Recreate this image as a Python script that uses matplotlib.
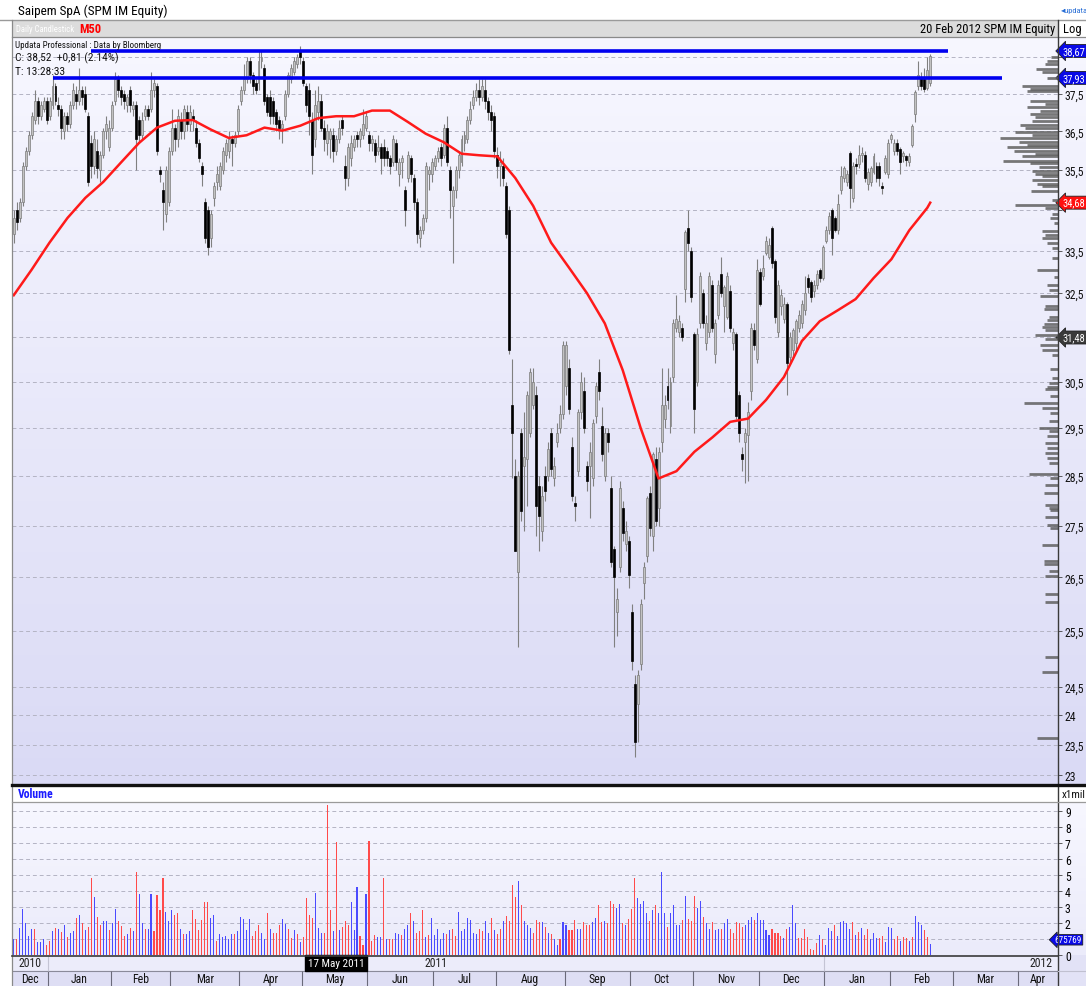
import numpy as np
import pandas as pd
import matplotlib
matplotlib.use('Agg')
import matplotlib.pyplot as plt
from matplotlib import transforms
from matplotlib import font_manager as fm
from matplotlib.lines import Line2D
from matplotlib.patches import Rectangle
from matplotlib.ticker import FixedLocator, NullLocator


# ---- daily candles, one row of numbers per month (Dec 2010 .. 20 Feb 2012) ----
opens = [
    33.9, 34.5, 34.3, 34.7, 35.6, 36.0, 36.4, 36.8, 37.3, 36.9, 37.1, 37.3,
    36.9, 37.2, 37.7, 37.2, 37.1, 36.5, 36.9, 36.7, 37.2, 37.5, 37.3, 37.6, 37.5, 36.9, 36.2, 35.6, 36.0, 35.5, 35.9, 36.5, 36.1,
    36.6, 37.3, 37.9, 37.6, 37.5, 37.2, 37.6, 37.1, 37.2, 36.8, 36.4, 36.9, 37.1, 37.1, 37.6, 37.7, 35.5, 35.0, 34.4, 34.7,
    36.0, 36.6, 36.3, 36.8, 36.5, 37.0, 36.7, 36.9, 36.6, 36.2, 35.6, 34.7, 34.5, 33.8, 34.8, 35.2, 35.1, 35.5, 35.9, 36.0, 36.3, 36.2, 36.5,
    37.3, 37.6, 37.9, 38.4, 38.0, 37.8, 37.8, 38.4, 38.2, 37.4, 37.4, 37.3, 37.0, 36.8, 36.6, 36.9, 37.5, 37.9, 38.1, 38.3, 38.7,
    38.4, 37.7, 37.6, 36.8, 36.3, 37.0, 37.3, 36.6, 36.2, 36.3, 36.4, 36.0, 36.3, 36.8, 35.6, 35.3, 35.8, 36.1, 36.4, 36.3, 36.4, 36.6,
    36.4, 36.2, 36.2, 36.0, 36.1, 36.1, 36.0, 35.8, 35.7, 36.2, 35.4, 35.7, 35.0, 35.3, 35.8, 35.3, 34.7, 33.8, 34.0, 34.3, 35.4, 35.4,
    35.6, 35.8, 36.1, 35.9, 36.6, 35.5, 34.6, 35.0, 35.5, 35.7, 36.2, 36.3, 36.8, 37.2, 37.4, 37.6, 37.4, 37.6, 37.3, 37.0, 36.9,
    35.9, 35.6, 35.6, 35.1, 34.5, 30.0, 28.5, 26.6, 29.4, 28.7, 28.85, 29.4, 30.0, 30.2, 28.3, 27.4, 28.5, 28.5, 29.4, 28.45, 29.2, 29.5, 29.8,
    30.4, 30.8, 29.1, 27.95, 28.6, 29.85, 30.3, 28.7, 28.7, 28.45, 29.75, 30.7, 29.55, 28.5, 29.4, 28.25, 27.05, 25.85, 26.7, 27.85, 27.15, 27.2,
    25.85, 24.55, 24.2, 24.9, 26.4, 26.9, 28.15, 27.3, 28.85, 27.85, 29.2, 29.7, 30.4, 29.55, 30.6, 31.7, 31.6, 31.7, 32.6, 34.05, 33.5,
    31.55, 30.5, 31.8, 32.5, 31.35, 31.6, 32.7, 31.1, 32.0, 32.95, 32.2, 31.95, 32.55, 31.35, 31.55, 30.2, 28.95, 29.2, 29.35, 30.3, 31.65, 31.0,
    33.0, 32.9, 33.45, 33.35, 34.05, 33.25, 31.6, 32.2, 31.9, 32.25, 31.05, 31.2, 31.35, 31.7, 31.8, 32.1, 32.85, 32.75, 32.55, 32.7, 33.05, 32.85,
    33.75, 34.0, 34.5, 34.3, 34.0, 35.0, 35.3, 35.2, 35.95, 34.8, 35.65, 35.65, 35.9, 35.9, 35.15, 35.2, 35.45, 35.6, 35.6, 35.07, 35.45, 35.4,
    36.3, 36.0, 36.2, 36.05, 35.85, 35.85, 35.7, 36.15, 36.95, 37.7, 37.95, 37.9, 37.65, 37.8,
]
highs = [
    34.5, 34.7, 34.8, 35.7, 36.1, 36.5, 37.0, 37.6, 37.4, 37.3, 37.4, 37.4,
    37.4, 38.0, 37.8, 37.4, 37.2, 37.0, 37.0, 37.3, 37.8, 37.7, 38.2, 37.7, 37.7, 37.0, 36.4, 36.5, 36.3, 36.0, 36.6, 36.9, 36.8,
    37.3, 38.1, 38.0, 37.7, 37.6, 37.5, 37.7, 37.3, 37.3, 36.9, 37.0, 37.2, 37.2, 38.1, 37.9, 37.8, 35.6, 35.2, 35.6, 36.1,
    37.1, 36.7, 37.1, 37.0, 37.2, 37.2, 37.2, 37.1, 36.8, 36.3, 35.7, 34.8, 34.6, 34.5, 35.2, 35.6, 35.7, 36.1, 36.3, 36.5, 36.4, 36.5, 37.2,
    37.7, 38.3, 38.5, 38.5, 38.1, 37.9, 38.7, 38.7, 38.3, 37.5, 37.6, 37.4, 37.1, 36.9, 36.8, 37.6, 38.1, 38.3, 38.5, 38.6, 38.8,
    38.5, 37.8, 37.8, 37.0, 37.6, 37.7, 37.5, 36.8, 36.7, 36.6, 36.6, 36.4, 36.8, 36.9, 35.9, 36.2, 36.4, 36.4, 36.5, 36.6, 37.1, 37.0,
    36.5, 36.4, 36.3, 36.4, 36.2, 36.3, 36.1, 35.9, 36.4, 36.3, 35.8, 35.9, 35.1, 36.0, 35.9, 35.4, 34.8, 34.1, 34.4, 35.7, 35.6, 35.8,
    35.9, 36.1, 36.2, 36.7, 36.9, 35.6, 35.1, 35.6, 36.0, 36.4, 36.5, 36.9, 37.3, 37.6, 37.8, 37.9, 37.9, 37.9, 37.4, 37.2, 37.0,
    36.1, 36.0, 35.8, 35.2, 34.6, 31.0, 28.85, 28.6, 29.5, 29.85, 30.3, 30.8, 30.8, 30.4, 28.5, 28.3, 28.7, 29.2, 29.5, 28.9, 29.6, 30.0, 31.4,
    31.4, 31.0, 29.3, 28.1, 29.9, 30.7, 30.6, 28.8, 29.2, 29.7, 30.5, 31.0, 29.95, 29.5, 29.5, 28.5, 27.1, 26.3, 28.4, 28.0, 27.6, 27.3,
    26.0, 24.7, 24.8, 26.1, 26.8, 28.1, 28.3, 29.0, 29.1, 29.1, 30.8, 30.2, 30.8, 30.6, 31.9, 32.45, 32.0, 31.8, 34.0, 34.5, 33.6,
    31.6, 31.7, 33.0, 32.6, 32.0, 33.0, 32.8, 31.9, 32.8, 33.35, 32.7, 33.0, 32.7, 31.7, 31.6, 30.3, 29.1, 29.5, 30.05, 31.8, 31.8, 33.3,
    33.1, 33.4, 33.85, 33.8, 34.1, 33.3, 32.8, 32.6, 32.4, 32.3, 31.6, 31.7, 31.9, 32.1, 32.35, 32.9, 32.95, 32.8, 32.8, 33.05, 33.1, 33.65,
    34.1, 34.45, 34.55, 34.35, 34.9, 35.6, 35.6, 35.5, 36.0, 35.7, 35.8, 36.15, 36.1, 36.0, 35.55, 35.6, 35.95, 35.7, 35.7, 35.2, 35.9, 36.3,
    36.45, 36.3, 36.3, 36.1, 36.0, 35.9, 35.95, 36.7, 37.6, 38.4, 38.1, 38.2, 38.5, 38.6,
]
lows = [
    33.7, 34.0, 34.2, 34.6, 35.5, 35.9, 36.3, 36.7, 36.7, 36.8, 37.0, 36.7,
    36.8, 37.1, 37.2, 36.9, 36.3, 36.3, 36.5, 36.6, 37.1, 37.1, 37.2, 37.2, 37.0, 35.1, 35.3, 35.4, 35.3, 35.2, 35.8, 36.3, 36.0,
    36.5, 37.2, 37.4, 37.2, 37.1, 37.0, 37.0, 36.9, 35.5, 36.2, 36.3, 36.8, 36.8, 37.0, 37.4, 35.9, 35.2, 34.0, 34.2, 34.6,
    35.9, 36.0, 36.1, 36.3, 36.3, 36.5, 36.5, 36.5, 36.1, 35.7, 35.1, 33.7, 33.4, 33.6, 34.6, 35.0, 35.0, 35.4, 35.7, 35.8, 35.6, 36.1, 36.4,
    37.2, 37.5, 37.8, 37.8, 37.5, 37.5, 37.6, 38.2, 37.2, 36.9, 36.7, 36.7, 36.5, 36.3, 36.2, 36.8, 37.4, 37.8, 38.0, 38.2, 38.3,
    37.7, 37.0, 36.4, 35.4, 36.1, 36.8, 36.5, 36.0, 35.9, 35.8, 35.7, 35.9, 36.2, 36.4, 35.0, 35.1, 35.6, 36.0, 36.1, 36.1, 36.3, 36.5,
    36.0, 36.0, 35.7, 35.9, 35.4, 35.6, 35.6, 35.4, 35.6, 35.5, 35.1, 35.3, 34.1, 35.2, 35.2, 34.5, 33.7, 33.6, 33.9, 34.2, 35.0, 35.2,
    35.5, 35.7, 35.6, 35.8, 35.6, 34.3, 33.2, 34.8, 35.3, 35.6, 36.0, 36.2, 36.7, 37.1, 37.3, 37.2, 37.3, 37.1, 36.8, 36.5, 35.8,
    35.3, 35.1, 35.1, 33.8, 31.1, 28.45, 27.0, 25.2, 27.6, 27.4, 27.9, 29.3, 29.9, 27.3, 27.0, 27.2, 28.0, 28.4, 28.5, 28.3, 29.1, 29.4, 29.7,
    30.2, 29.8, 28.0, 27.6, 28.5, 29.7, 29.4, 28.2, 27.65, 28.3, 29.6, 30.1, 28.8, 28.4, 29.0, 26.7, 25.2, 25.4, 26.6, 27.2, 27.0, 26.3,
    24.8, 23.3, 23.55, 24.8, 26.1, 26.8, 27.3, 27.0, 27.5, 27.5, 29.0, 29.5, 29.9, 29.4, 30.5, 31.6, 31.5, 31.4, 32.3, 33.5, 32.3,
    29.4, 30.4, 31.7, 31.7, 31.2, 31.5, 31.6, 30.9, 31.9, 32.4, 31.6, 31.9, 31.6, 31.2, 29.7, 29.2, 28.6, 28.35, 28.4, 30.1, 31.2, 30.9,
    32.2, 32.8, 33.4, 33.3, 33.1, 31.8, 31.5, 32.0, 31.8, 30.2, 30.9, 31.0, 31.2, 31.6, 31.7, 32.0, 32.5, 32.3, 32.4, 32.6, 32.75, 32.8,
    33.7, 33.9, 33.4, 33.95, 33.9, 34.9, 35.2, 35.1, 34.55, 34.7, 35.4, 35.55, 35.7, 35.2, 35.0, 35.1, 35.4, 35.2, 35.1, 34.9, 35.4, 35.3,
    36.2, 35.9, 35.9, 35.4, 35.7, 35.6, 35.6, 36.1, 36.75, 37.6, 37.6, 37.55, 37.6, 37.7,
]
closes = [
    34.3, 34.2, 34.7, 35.6, 36.0, 36.4, 36.9, 37.3, 36.9, 37.2, 37.3, 36.8,
    37.3, 37.7, 37.3, 37.1, 36.6, 36.9, 36.7, 37.2, 37.6, 37.3, 37.6, 37.4, 37.1, 35.2, 35.6, 36.3, 35.55, 35.9, 36.5, 36.7, 36.6,
    37.2, 37.9, 37.6, 37.4, 37.3, 37.4, 37.2, 37.2, 36.3, 36.4, 36.8, 37.1, 36.9, 37.6, 37.8, 36.0, 35.4, 34.7, 35.5, 36.0,
    36.6, 36.3, 36.9, 36.5, 37.1, 36.7, 37.0, 36.8, 36.2, 35.8, 35.4, 33.8, 33.6, 34.4, 35.1, 35.4, 35.6, 36.0, 36.2, 36.3, 36.2, 36.4, 37.1,
    37.6, 37.9, 38.4, 38.0, 37.7, 37.6, 38.4, 38.5, 37.3, 37.0, 36.9, 36.9, 36.7, 36.6, 36.7, 37.5, 38.0, 38.2, 38.4, 38.5, 38.5,
    37.8, 37.2, 36.9, 35.9, 37.2, 37.3, 36.6, 36.3, 36.5, 36.5, 36.0, 36.3, 36.6, 36.6, 35.3, 36.1, 36.2, 36.3, 36.3, 36.5, 36.7, 36.9,
    36.2, 36.3, 35.9, 36.1, 35.8, 35.8, 35.8, 35.6, 36.3, 35.7, 35.7, 35.8, 34.5, 35.9, 35.4, 34.7, 33.9, 34.0, 34.3, 35.6, 35.5, 35.7,
    35.8, 36.0, 35.8, 36.6, 35.7, 35.0, 35.0, 35.5, 35.9, 36.3, 36.4, 36.8, 37.1, 37.4, 37.6, 37.4, 37.7, 37.3, 37.0, 36.8, 36.0,
    35.6, 35.7, 35.3, 33.9, 31.2, 29.4, 27.0, 28.5, 27.8, 28.9, 30.2, 30.7, 30.5, 27.9, 27.7, 28.1, 28.2, 29.05, 28.65, 28.7, 29.4, 29.8, 31.3,
    31.3, 29.9, 28.1, 27.9, 29.85, 30.5, 29.5, 28.4, 29.0, 29.6, 30.4, 30.3, 28.95, 29.4, 29.2, 26.8, 26.5, 26.1, 28.25, 27.35, 27.4, 26.55,
    24.95, 23.55, 24.7, 26.0, 26.7, 28.05, 27.45, 28.95, 27.6, 29.0, 30.0, 30.0, 30.1, 30.5, 31.8, 31.9, 31.85, 31.5, 33.95, 33.7, 32.4,
    29.9, 31.55, 32.9, 31.8, 31.8, 32.9, 31.7, 31.8, 32.7, 32.5, 32.65, 32.9, 31.7, 31.6, 29.75, 29.4, 28.85, 29.4, 29.85, 31.7, 31.3, 33.05,
    32.25, 33.1, 33.75, 33.65, 33.2, 31.95, 32.7, 32.45, 32.25, 30.9, 31.5, 31.65, 31.85, 32.0, 32.25, 32.5, 32.65, 32.4, 32.7, 32.95, 32.85, 33.6,
    34.0, 34.35, 33.8, 34.0, 34.65, 35.35, 35.55, 35.4, 35.05, 35.6, 35.6, 35.9, 35.95, 35.3, 35.45, 35.55, 35.85, 35.3, 35.3, 35.04, 35.8, 36.2,
    36.4, 36.2, 36.0, 35.7, 35.95, 35.75, 35.85, 36.65, 37.55, 38.0, 37.7, 37.63, 38.15, 38.52,
]
first_day = '2010-12-16'

# 50 day moving average, read every 6th session (plus the last one)
ma50_day = list(range(0, 307, 6)) + [307]
ma50 = [32.45, 33.05, 33.7, 34.3, 34.8, 35.2, 35.7, 36.2, 36.6, 36.78,
        36.8, 36.55, 36.33, 36.4, 36.6, 36.52, 36.65, 36.85, 36.9, 36.9,
        37.05, 37.05, 36.75, 36.44, 36.22, 35.92, 35.88, 35.85, 35.3, 34.6,
        33.7, 33.1, 32.5, 31.8, 30.75, 29.5, 28.45, 28.6, 29.0, 29.3,
        29.63, 29.7, 30.1, 30.6, 31.4, 31.85, 32.1, 32.36, 32.85, 33.3,
        34.0, 34.55, 34.68]

# horizontal resistance lines: level, first session, last session
level_price = [38.67, 37.93]
level_from = [26, 13]
level_to = [313, 331]

# volume in millions, and colour code per session (b = blue, r = red)
volumes = [
    1.0, 1.0, 1.7, 2.9, 2.0, 1.2, 1.65, 1.6, 0.8, 0.8, 1.0,
    0.6, 0.85, 1.5, 1.7, 1.65, 1.45, 1.9, 1.1, 1.35, 1.5,
    2.3, 2.5, 2.0, 1.55, 1.75, 4.8, 3.6, 2.35, 1.85, 2.15,
    2.1, 1.55, 2.0, 2.9, 2.15, 1.8, 1.2, 1.3, 1.7, 1.5,
    5.2, 3.8, 2.0, 1.6, 1.6, 3.8, 1.5, 3.75, 2.8, 4.8,
    2.7, 2.1, 2.8, 2.5, 2.65, 1.65, 1.3, 1.3, 1.5, 2.8,
    2.25, 1.55, 2.2, 3.3, 3.3, 2.3, 2.5, 0.9, 1.3, 1.15, 1.2,
    1.0, 1.3, 1.3, 1.5, 2.4, 2.25, 1.55, 2.25, 1.2, 1.5,
    1.85, 1.35, 1.0, 2.6, 1.6, 1.35, 1.4, 1.85, 2.25, 1.95,
    1.6, 1.05, 1.55, 1.3, 0.8, 1.15, 3.55, 2.5, 2.3, 3.9,
    1.7, 1.4, 1.4, 9.4, 2.8, 1.5, 7.05, 1.55, 1.75, 2.1,
    1.85, 3.3, 1.55, 4.25, 1.2, 0.6, 3.8, 7.1, 0.9, 1.25,
    1.1, 1.1, 4.8, 1.0, 1.0, 1.0, 1.4, 1.3,
    1.25, 1.65, 1.9, 2.65, 2.1, 1.4, 1.5, 2.8, 1.15, 1.25,
    2.3, 1.25, 1.65, 1.0, 1.35, 1.3, 1.55, 1.6, 1.2, 2.7,
    1.5, 1.6, 2.3, 2.2, 1.4, 1.3, 1.65, 1.5, 2.1, 1.4,
    2.3, 1.55, 1.3, 1.6, 2.1, 2.45, 2.1, 4.4, 3.6, 4.6,
    3.1, 2.1, 1.9, 1.7, 1.35, 2.2, 2.05, 2.05, 1.75, 1.4,
    1.3, 1.0, 0.6, 1.0, 2.05, 1.85, 1.55, 1.55, 2.2, 1.65,
    1.6, 2.05, 1.85, 1.9, 2.05, 2.3, 3.1, 2.05, 2.1, 2.0,
    3.35, 3.2, 2.95, 3.2, 2.0, 1.85, 2.25, 2.9, 4.8, 3.55,
    3.2, 3.4, 2.6, 2.1, 2.8, 3.1, 2.6, 5.2, 2.65, 1.75,
    2.6, 3.1, 1.9, 1.9, 2.2, 3.7, 2.25, 2.1, 3.7, 2.95,
    3.35, 2.4, 2.0, 1.6, 2.05, 1.55, 1.6, 1.6, 2.0, 2.25,
    1.6, 1.35, 2.05, 2.0, 1.75, 1.85, 2.2, 2.4, 2.2, 2.65,
    2.2, 2.2, 1.55, 1.25, 1.6, 1.4, 1.35, 1.2, 1.05, 1.6,
    1.75, 3.1, 2.0,
    1.05, 1.05, 1.6, 1.1, 0.4, 0.3, 0.75, 1.25, 1.0, 0.65,
    1.7, 1.5, 1.9, 1.2, 2.05, 2.1, 2.0, 1.6, 2.05, 1.25,
    1.45, 1.7, 1.25, 1.6, 1.0, 1.35, 1.05, 1.05, 1.2, 0.8,
    1.75, 1.7, 1.0, 1.2, 0.85, 1.15, 1.05, 0.85, 1.15, 2.45,
    2.05, 1.9, 1.55, 1.15, 0.676,
]
vol_colors = ("brbbbbbrbbb" "rrbrbrbrbb" "rbrbrrbrrb" "brbbrrrbrb" "rbbrbbrrrr"
              "bbbrrbrbbr" "rrrrrbbrbbb" "bbrbbbbbrr" "rbbrbrrrbb" "rrbrbrrrrb"
              "bbrrrbrbrr" "rbbbrrbrrr" "bbrbrrbb"
              "rbbrbrrrbr" "bbbbbrbrrb" "bbbbbbrrbb" "rbrrbrrrrb" "rbbbrrrbrb"
              "rbbrbbrrrb" "brrrbbrrbr" "rrbbrbrrrb" "bbbrbrbbbr" "bbbbrbrrrb"
              "brbbrbbrbb" "rrrrrbbbrb" "bbbbrrrrbr" "bbb"
              "rrrrrrrbrb" "bbrbbbbbrb" "rbrrbbbrrb" "bbrrbrrbrb" "bbrrb")

# volume-at-price profile: price level and bar length
profile_price = [38.51, 38.40, 38.30, 38.18, 38.10, 37.93, 37.72, 37.64, 37.58,
                 37.31, 37.23, 37.15, 37.05, 36.97, 36.88, 36.78, 36.67, 36.60, 36.49,
                 36.41, 36.33, 36.23, 36.15, 36.10, 36.00, 35.92, 35.85, 35.74, 35.67,
                 35.59, 35.49, 35.41, 35.34, 35.24, 35.16, 35.09, 34.96, 34.74, 34.61,
                 34.54, 34.41, 34.30, 34.17, 33.98, 33.88, 33.81, 33.69, 33.57, 33.34,
                 33.05, 32.87, 32.70, 32.58, 32.44, 32.21, 32.12, 31.94, 31.87, 31.78,
                 31.72, 31.65, 31.54, 31.45, 31.32, 31.20, 31.09, 30.78, 30.57, 30.46,
                 30.39, 30.33, 30.18, 30.03, 29.92, 29.81, 29.64, 29.50, 29.43, 29.33,
                 29.19, 29.08, 28.98, 28.88, 28.77, 28.55, 28.45, 28.31, 28.15, 27.91,
                 27.85, 27.81, 27.68, 27.52, 27.46, 27.13, 26.81, 26.75, 26.62, 26.52,
                 26.18, 26.03, 25.03, 24.76, 23.62]
profile_size = [7, 11, 13, 22, 16, 11, 36, 28, 31,
                28, 13, 31, 18, 28, 23, 26, 38, 33, 43,
                26, 58, 39, 31, 51, 44, 23, 36, 55, 28,
                19, 26, 23, 16, 26, 21, 16, 27, 6, 43,
                13, 6, 8, 4, 16, 13, 16, 11, 6, 6,
                21, 4, 11, 9, 18, 13, 14, 9, 11, 14,
                16, 13, 23, 13, 18, 16, 6, 8, 6, 9,
                11, 13, 8, 34, 16, 8, 9, 19, 9, 11,
                13, 11, 13, 11, 9, 29, 8, 13, 14, 13,
                9, 8, 13, 11, 8, 16, 14, 14, 9, 13,
                13, 13, 13, 16, 21]

price_ticks = [23, 23.5, 24, 24.5, 25.5, 26.5, 27.5, 28.5, 29.5, 30.5, 31.5,
               32.5, 33.5, 34.5, 35.5, 36.5, 37.5, 38.5]
hidden_ticks = [31.5, 34.5, 38.5]
month_names = ['Jan', 'Feb', 'Mar', 'Apr', 'May', 'Jun', 'Jul', 'Aug', 'Sep',
               'Oct', 'Nov', 'Dec']


def pick_font():
    # prefer a narrow face, like the terminal font of the original
    names = {f.name for f in fm.fontManager.ttflist}
    for name in ['Liberation Sans Narrow', 'Roboto Condensed', 'Open Sans Condensed']:
        if name in names:
            return name, 'normal', True
    for f in fm.fontManager.ttflist:
        if f.name == 'DejaVu Sans' and f.stretch == 'condensed' and f.style == 'normal':
            return 'DejaVu Sans', 'condensed', True
    if 'Liberation Sans' in names:
        return 'Liberation Sans', 'normal', False
    return 'DejaVu Sans', 'normal', False


FONT, STRETCH, NARROW = pick_font()
plt.rcParams['font.family'] = [FONT, 'DejaVu Sans']
plt.rcParams['font.stretch'] = STRETCH
FS = 1.0 if NARROW else 0.88   # shrink text a little for a wide face

W, H = 1086, 987
fig = plt.figure(figsize=(W / 100, H / 100), dpi=100)
fig.patch.set_facecolor('white')


def rect(x0, y0, x1, y1):
    # pixel box (top-left origin) -> figure fraction
    return [x0 / W, 1 - y1 / H, (x1 - x0) / W, (y1 - y0) / H]


def fline(x0, y0, x1, y1, color='#707070', lw=1.0, z=20):
    fig.add_artist(Line2D([x0 / W, x1 / W], [1 - y0 / H, 1 - y1 / H],
                          transform=fig.transFigure, color=color, lw=lw, zorder=z))


def fbox(x0, y0, x1, y1, color, z=-5):
    fig.add_artist(Rectangle((x0 / W, 1 - y1 / H), (x1 - x0) / W, (y1 - y0) / H,
                             transform=fig.transFigure, color=color, lw=0, zorder=z))


def ftext(x, y, s, size, **kw):
    kw.setdefault('va', 'center')
    fig.text(x / W, 1 - y / H, s, fontsize=size * FS, **kw)


def gradient(box, top, bottom):
    bg = fig.add_axes(box, zorder=0)
    bg.set_axis_off()
    c0 = np.array(matplotlib.colors.to_rgb(top))
    c1 = np.array(matplotlib.colors.to_rgb(bottom))
    t = np.linspace(0, 1, 256)[:, None]
    img = c0[None, :] * (1 - t) + c1[None, :] * t
    bg.imshow(img[:, None, :], aspect='auto', extent=[0, 1, 0, 1], origin='upper')
    bg.set_xlim(0, 1)
    bg.set_ylim(0, 1)


n = min(len(opens), len(highs), len(lows), len(closes))
o = np.array(opens[:n])
h = np.array(highs[:n])
l = np.array(lows[:n])
c = np.array(closes[:n])
idx = np.arange(n)
XL = (-0.57, 349.8)

# ---- backgrounds ----
gradient(rect(12, 38, 1086, 786), '#f7f7ff', '#dadaf5')
gradient(rect(12, 803, 1086, 956), '#f7f7ff', '#ebebfa')
fbox(0, 0, W, 21, 'white')
fbox(12, 21, 1058, 38, '#dcdcdc')
fbox(1058, 21, 1086, 38, 'white')
fbox(12, 786, 1086, 803, 'white')
fbox(12, 956, 1086, 987, '#e2e2f6')

# ---- price panel ----
ax = fig.add_axes(rect(12, 38, 1058, 786), zorder=2)
ax.set_facecolor('none')
ax.set_yscale('log')
ax.set_ylim(22.83, 39.06)
ax.set_xlim(*XL)
for s in ax.spines.values():
    s.set_visible(False)
ax.yaxis.tick_right()
ax.yaxis.set_major_locator(FixedLocator(price_ticks))
ax.yaxis.set_minor_locator(NullLocator())
ax.set_yticklabels(['' if t in hidden_ticks else ('%g' % t).replace('.', ',')
                    for t in price_ticks])
ax.tick_params(axis='y', which='both', length=3, width=0.6, color='#444444',
               labelsize=8.5 * FS, pad=2, labelcolor='#111111')
ax.set_xticks([])
ax.grid(axis='y', ls=(0, (4, 3)), color='#b4b4c4', lw=0.7)
ax.set_axisbelow(True)

lo = np.minimum(l, np.minimum(o, c))
hi = np.maximum(h, np.maximum(o, c))
up = c >= o
ax.vlines(idx, lo, hi, color='#808080', lw=0.8, zorder=3)
body_lo = np.minimum(o, c)
body_h = np.maximum(np.abs(c - o), 0.05)
ax.bar(idx[up], body_h[up], bottom=body_lo[up], width=0.66, color='#c2c2c2',
       edgecolor='#7c7c7c', lw=0.5, zorder=4)
ax.bar(idx[~up], body_h[~up], bottom=body_lo[~up], width=0.66, color='black',
       edgecolor='black', lw=0.5, zorder=4)

ax.plot(ma50_day, ma50, color='#ff1a1a', lw=1.8, zorder=5, solid_joinstyle='round')
ax.hlines(level_price, level_from, level_to, color='#0000f0', lw=2.6, zorder=6)

box_fs = 7.6 if NARROW else 6.2
tr = transforms.blended_transform_factory(ax.transAxes, ax.transData)
for val, txt, fc in [(38.67, '38,67', '#0a0ae6'), (37.93, '37,93', '#0a0ae6'),
                     (34.68, '34,68', '#ff1010'), (31.48, '31,48', '#3a3a3a')]:
    ax.text(1.0045, val, txt, transform=tr, ha='left', va='center', fontsize=box_fs,
            color='white', clip_on=False, zorder=12,
            bbox=dict(boxstyle='larrow,pad=0.14', fc=fc, ec='#202020', lw=0.6))

# volume at price profile (drawn against the same log price scale)
axp = fig.add_axes(rect(990, 38, 1058, 786), zorder=3)
axp.set_facecolor('none')
axp.set_yscale('log')
axp.set_ylim(ax.get_ylim())
axp.set_xlim(68, 0)
axp.set_axis_off()
axp.hlines(profile_price, 0, profile_size, color='#606060', lw=2.0, alpha=0.85)

# ---- volume panel ----
axv = fig.add_axes(rect(12, 803, 1058, 956), zorder=2)
axv.set_facecolor('none')
axv.set_xlim(*XL)
axv.set_ylim(0, 9.56)
for s in axv.spines.values():
    s.set_visible(False)
vn = min(len(volumes), len(vol_colors))
vx = np.arange(vn) + (n - vn)
colmap = {'b': '#4a4aff', 'r': '#ff4a4a'}
axv.bar(vx, volumes[:vn], width=0.36, color=[colmap[k] for k in vol_colors[:vn]],
        lw=0, zorder=3)
axv.yaxis.tick_right()
axv.set_yticks(range(10))
# the "1" label sits under the last-volume flag, as in the original
axv.set_yticklabels(['' if k == 1 else str(k) for k in range(10)])
axv.tick_params(axis='y', length=3, width=0.6, color='#444444', labelsize=8.5 * FS, pad=2)
axv.set_xticks([])
axv.grid(axis='y', ls=(0, (4, 3)), color='#b4b4c4', lw=0.7)
axv.set_axisbelow(True)
trv = transforms.blended_transform_factory(axv.transAxes, axv.transData)
axv.text((1082 - 12) / 1046, 0.95, '675769', transform=trv, ha='right', va='center',
         fontsize=(6.6 if NARROW else 4.8), color='white', clip_on=False, zorder=12,
         bbox=dict(boxstyle='larrow,pad=0.08', fc='#0a0ae6', ec='#202020', lw=0.6))

# ---- date strip ----
axd = fig.add_axes(rect(12, 956, 1058, 987), zorder=2)
axd.set_facecolor('none')
axd.set_xlim(*XL)
axd.set_ylim(0, 2)
axd.set_axis_off()
axd.axhspan(1, 2, color='#ececfa', zorder=0)
axd.axhspan(0, 1, color='#dedef4', zorder=0)
axd.axhline(1, color='#8a8a9a', lw=0.8)
dates = pd.bdate_range(first_day, periods=int(XL[1]) + 2)
m_start = [0] + [k for k in range(1, len(dates)) if dates[k].month != dates[k - 1].month]
edges = [XL[0]] + [k - 0.5 for k in m_start[1:]] + [XL[1]]
for e in edges[1:-1]:
    axd.vlines(e, 0, 1, color='#6a6a7a', lw=0.8)
for k in range(len(m_start)):
    mid = (edges[k] + edges[k + 1]) / 2
    axd.text(mid, 0.5, month_names[dates[m_start[k]].month - 1], ha='center',
             va='center', fontsize=8.5 * FS, color='#111111')
y_start = [k for k in m_start if dates[k].month == 1]
for e in y_start:
    axd.vlines(e - 0.5, 1, 2, color='#c4c4d4', lw=0.8)
axd.text((edges[0] + y_start[0] - 0.5) / 2, 1.5, str(dates[0].year), ha='center',
         va='center', fontsize=8.5 * FS, color='#222222')
axd.text((y_start[0] + y_start[1]) / 2 - 0.5, 1.5, str(dates[y_start[0]].year),
         ha='center', va='center', fontsize=8.5 * FS, color='#222222')
axd.text(XL[1] - 2, 1.5, str(dates[y_start[1]].year), ha='right', va='center',
         fontsize=8.5 * FS, color='#222222')
cursor = dates.get_loc(pd.Timestamp('2011-05-17'))
axd.text(cursor, 1.5, '17 May 2011', ha='center', va='center', fontsize=8 * FS,
         color='white', zorder=5,
         bbox=dict(boxstyle='square,pad=0.25', fc='black', ec='black'))

# ---- header texts ----
ftext(18, 11, 'Saipem SpA (SPM IM Equity)', 9.5, color='black')
ftext(1061, 11, '\u25c2updata', 6.0, color='#2a6fd6')
ftext(16, 29.5, 'Daily Candlestick', 6.2, color='white')
ftext(79, 29.5, 'M50', 9, color='#ff0000', fontweight='bold')
ftext(1055, 29.5, '20 Feb 2012 SPM IM Equity', 9, color='black', ha='right')
ftext(1063, 29.5, 'Log', 9, color='black')
ftext(15, 45, 'Updata Professional : Data by Bloomberg', 6.5, color='#111111')
ftext(15, 58, 'C: 38,52  +0,81 (2.14%)', 8.2, color='#111111')
ftext(15, 72, 'T: 13:28:33', 8.2, color='#111111')
ftext(18, 795, 'Volume', 8.5, color='#1a1aff', fontweight='bold')
ftext(1062, 795, 'x1mil', 8, color='#111111')

# ---- frame lines ----
fline(0, 21, 1086, 21, '#9a9a9a', 1.0)
fline(12, 21, 12, 987, '#8a8a8a', 0.9)
fline(12, 38, 1086, 38, '#8a8a8a', 0.9)
fline(1058, 21, 1058, 987, '#3a3a3a', 1.0)
fline(12, 786, 1086, 786, '#111111', 2.4)
fline(12, 803, 1086, 803, '#9a9a9a', 0.9)
fline(12, 956.5, 1058, 956.5, '#3a3a3a', 1.2)
fline(1058, 972, 1086, 972, '#c0c0d0', 0.8)

fig.savefig('out.png', dpi=100)
